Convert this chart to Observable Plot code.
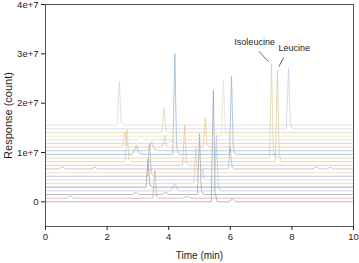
<!DOCTYPE html>
<html>
<head>
<meta charset="utf-8">
<script src="https://cdn.jsdelivr.net/npm/d3@7"></script>
<script src="https://cdn.jsdelivr.net/npm/@observablehq/plot@0.6"></script>
<style>
  html, body { margin: 0; padding: 0; background: #fff; }
</style>
</head>
<body>
<div id="chart"></div>
<script>
// Baseline of each stacked trace (response, units of 1e6), bottom to top
const baselines = [0, 0.74, 1.48, 2.22, 2.96, 3.7, 4.44, 5.18, 5.92, 6.66, 7.4,
  8.14, 8.88, 9.62, 10.36, 11.1, 11.84, 12.58, 13.32, 14.06, 14.8, 15.54];
// Trace colours, bottom to top
const colors = ["#8f9db3", "#d9a58e", "#9c9ca8", "#b3c7de", "#8e8e9e", "#f0caa2",
  "#b8cbe0", "#a7aec0", "#f2d3b3", "#a0b3cc", "#e9bb90", "#d8c99c",
  "#d6d49e", "#8fb0d0", "#aab7c9", "#efbf88", "#c3cde0", "#e8d8c0",
  "#e6e0c8", "#e4d3a3", "#c4cde6", "#e0cfcb"];
// Peaks of each trace: [time (min), apex response (1e6)]
const peaks = [
  [[5.45, 22.6], [6.07, 0.6]],
  [[0.8, 1.2], [3.55, 6.3], [4.6, 1.1]],
  [[2.95, 2.0], [3.9, 2.0], [5.0, 13.8]],
  [[4.2, 3.8], [5.55, 13.5]],
  [[3.33, 8.7]],
  [[4.88, 11.0]],
  [[5.1, 6.5]],
  [[3.38, 11.8]],
  [],
  [[0.55, 7.1], [1.6, 7.0], [6.0, 11.0], [8.8, 7.1], [9.25, 7.0]],
  [[4.52, 15.6]],
  [[2.65, 14.6], [7.53, 26.7]],
  [[7.34, 27.9]],
  [[2.95, 11.4], [4.2, 30.0], [6.04, 25.4]],
  [[3.45, 12.2]],
  [[2.58, 14.2], [3.87, 13.4], [5.19, 17.1]],
  [[4.1, 12.5]],
  [[3.1, 13.2]],
  [[5.78, 24.6]],
  [[3.85, 18.9]],
  [[7.89, 27.1]],
  [[2.4, 24.4]]
];
const xTicks = [0, 2, 4, 6, 8, 10];
const yTicks = [0, 1e7, 2e7, 3e7, 4e7];
const labels = [
  {name: "Isoleucine", t: 6.79, v: 32.3, t0: 6.93, v0: 30.5, t1: 7.24, v1: 28.4},
  {name: "Leucine", t: 8.08, v: 31.2, t0: 7.73, v0: 29.3, t1: 7.58, v1: 27.4}
];

// Build each trace's points from its baseline and its peaks
const traces = baselines.map((b, i) => {
  const pts = [{t: 0, v: b * 1e6}];
  const ps = peaks[i].slice().sort((a, c) => a[0] - c[0]);
  for (const [t, apex] of ps) {
    const h = apex - b;
    const w = h < 2 ? 0.12 : 0.07;
    pts.push({t: t - w, v: b * 1e6});
    pts.push({t: t, v: apex * 1e6});
    pts.push({t: t + w * 0.8, v: (b + h * 0.08) * 1e6});
    pts.push({t: t + w * 1.8, v: b * 1e6});
  }
  pts.push({t: 10, v: b * 1e6});
  return pts;
});

const marks = [];
traces.forEach((pts, i) => {
  marks.push(Plot.line(pts, {x: "t", y: "v", stroke: colors[i], strokeWidth: 0.9, strokeOpacity: 0.8}));
});
marks.push(Plot.frame({stroke: "#555", strokeWidth: 1}));
marks.push(Plot.axisX({ticks: xTicks, tickSize: 4, tickPadding: 3, fontSize: 9.5, label: null}));
marks.push(Plot.axisX({ticks: [], tickSize: 0, fontSize: 10,
  label: "Time (min)", labelAnchor: "center", labelArrow: false, labelOffset: 32}));
marks.push(Plot.axisY({ticks: yTicks, tickSize: 4, tickPadding: 3, fontSize: 9.5,
  tickFormat: d => d === 0 ? "0" : d3.format(".0e")(d), label: null}));
marks.push(Plot.axisY({ticks: [], tickSize: 0, fontSize: 11,
  label: "Response (count)", labelAnchor: "center", labelArrow: false, labelOffset: 41}));
marks.push(Plot.text(labels, {x: "t", y: d => d.v * 1e6, text: "name", fontSize: 9, fill: "#222"}));
marks.push(Plot.link(labels, {x1: "t0", y1: d => d.v0 * 1e6, x2: "t1", y2: d => d.v1 * 1e6, stroke: "#444", strokeWidth: 0.8}));

const chart = Plot.plot({
  width: 359,
  height: 263,
  marginLeft: 45,
  marginRight: 6,
  marginTop: 4,
  marginBottom: 37,
  style: {fontSize: "10px", fontFamily: "'Liberation Sans', Arial, sans-serif", color: "#222", background: "#fff"},
  x: {domain: [0, 10]},
  y: {domain: [-5e6, 4e7]},
  marks
});
document.getElementById("chart").appendChild(chart);
</script>
</body>
</html>
